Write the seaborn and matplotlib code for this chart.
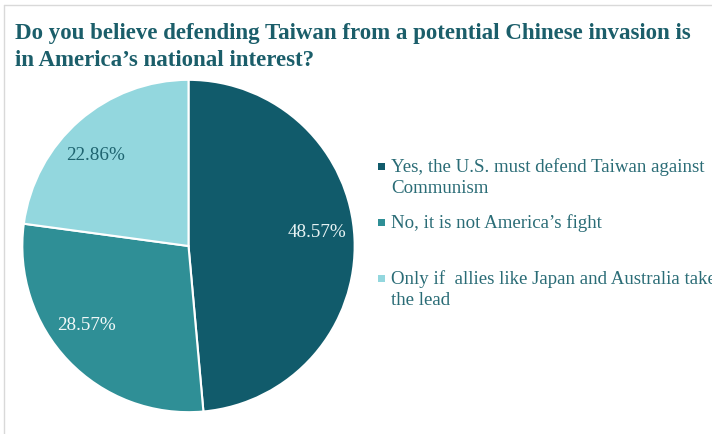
import matplotlib
matplotlib.use("Agg")
import matplotlib.pyplot as plt
from matplotlib.patches import Rectangle
from matplotlib.lines import Line2D
import numpy as np
import seaborn as sns

sns.set_theme(style="white")
plt.rcParams["font.family"] = ["Liberation Serif", "DejaVu Serif"]

title = "Do you believe defending Taiwan from a potential Chinese invasion is\nin America\u2019s national interest?"
categories = [
    "Yes, the U.S. must defend Taiwan against\nCommunism",
    "No, it is not America\u2019s fight",
    "Only if  allies like Japan and Australia take\nthe lead",
]
shares = [48.57, 28.57, 22.86]
colors = ["#115B6B", "#2F8F96", "#93D7DE"]
label_colors = ["#E6F2F3", "#F2F8F8", "#1E6470"]
# small angular shift (degrees) of each percentage label around its wedge
label_shift = [3.6, -5.7, 4.4]

W, H = 712, 434
fig = plt.figure(figsize=(W / 100, H / 100), dpi=100)
fig.patch.set_facecolor("white")

# thin frame along the top and left edges
fig.add_artist(Line2D([4 / W, 4 / W], [0, 1 - 5 / H], color="#D9D9D9", lw=1.0))
fig.add_artist(Line2D([4 / W, 1], [1 - 5 / H, 1 - 5 / H], color="#D9D9D9", lw=1.0))

fig.text(15 / W, 1 - 23.5 / H, title, ha="left", va="top", fontsize=16.5,
         fontweight="bold", color="#1B5E6A", linespacing=1.32)

cx, cy, r = 188.5, 246, 167
ax = fig.add_axes([(cx - r) / W, (H - cy - r) / H, 2 * r / W, 2 * r / H])
wedges, texts, autotexts = ax.pie(
    shares, colors=colors, startangle=90, counterclock=False,
    autopct=lambda p: f"{p:.2f}%", pctdistance=0.78,
    wedgeprops=dict(edgecolor="white", linewidth=1.5),
    textprops=dict(fontsize=13.8),
)
for w, t, c, s in zip(wedges, autotexts, label_colors, label_shift):
    t.set_color(c)
    ang = np.deg2rad((w.theta1 + w.theta2) / 2 + s)
    t.set_position((0.78 * np.cos(ang), 0.78 * np.sin(ang)))
ax.set_xlim(-1.005, 1.005)
ax.set_ylim(-1.005, 1.005)
ax.axis("off")

# legend entries
row_tops = [158, 214, 270]
for cat, col, y in zip(categories, colors, row_tops):
    fig.add_artist(Rectangle((378 / W, (H - y - 12) / H), 7.5 / W, 7.5 / H,
                             facecolor=col, edgecolor="none",
                             transform=fig.transFigure))
    fig.text(391 / W, (H - y) / H, cat, ha="left", va="top",
             fontsize=13.6, color="#2A6C76", linespacing=1.28)

fig.savefig("out.png", dpi=100)
